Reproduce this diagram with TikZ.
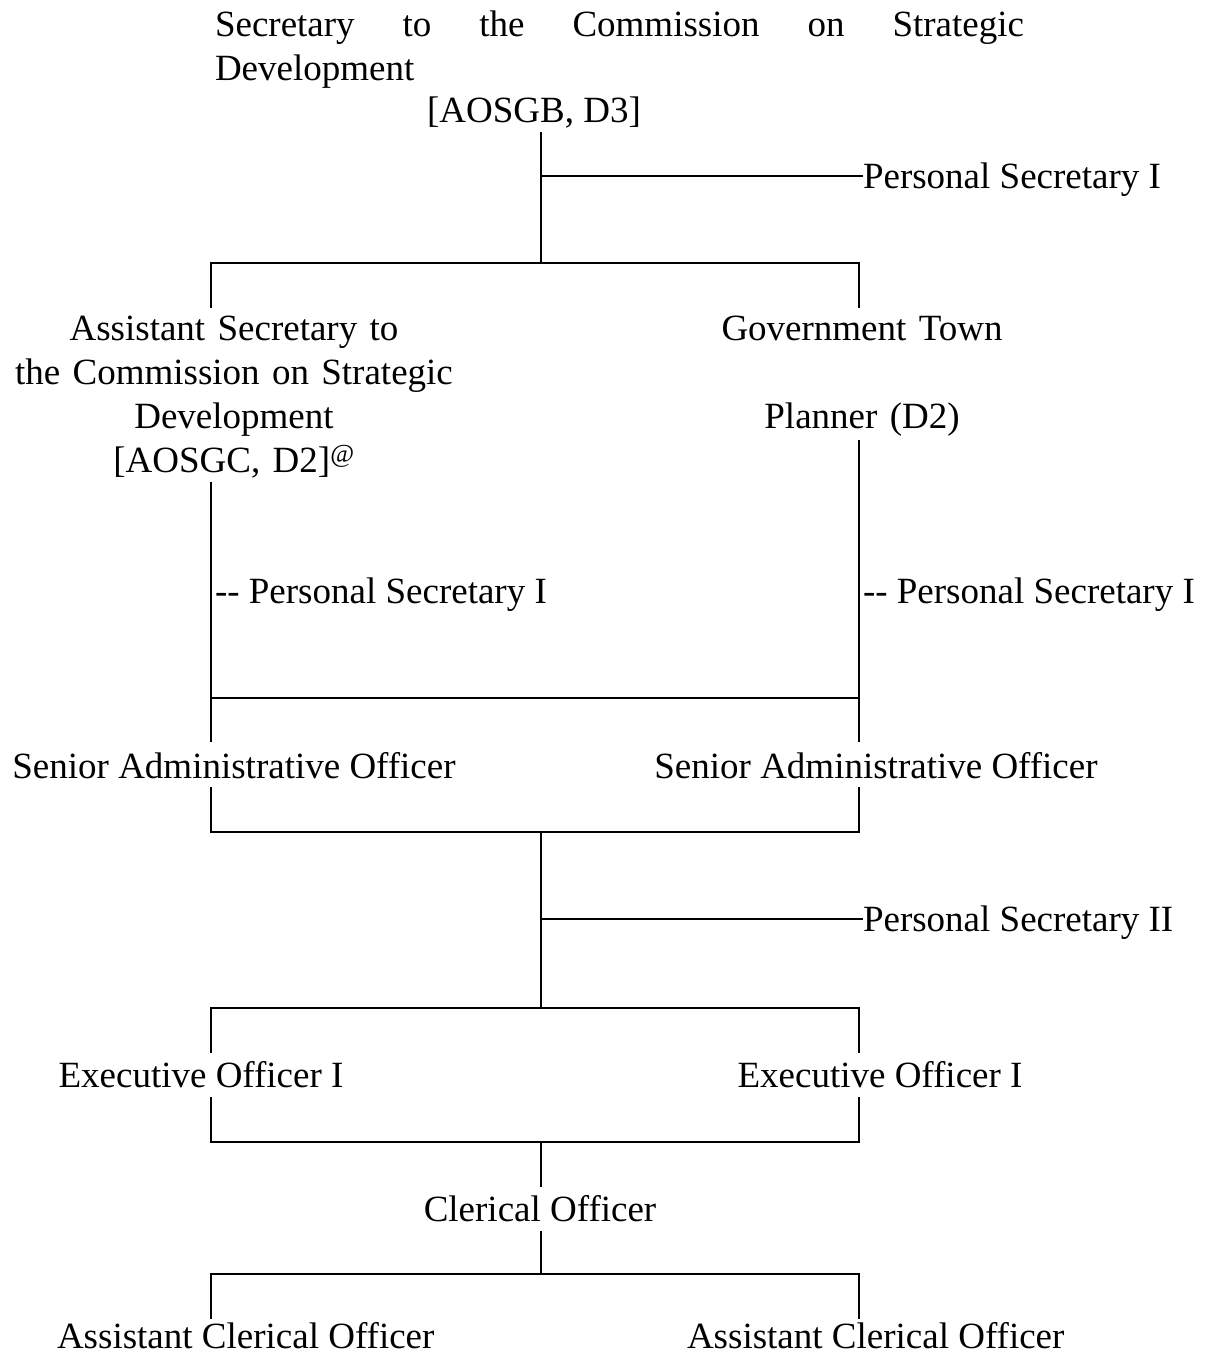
\documentclass[tikz,border=0pt]{standalone}
\usepackage{fontspec}
\setmainfont{Liberation Serif}
\begin{document}
\begin{tikzpicture}[x=1pt,y=-1pt,
  every node/.style={inner sep=0pt, outer sep=0pt, font=\fontsize{37}{44}\selectfont},
  lbl/.style={text height=34pt, text depth=10pt},
  ln/.style={line width=2pt}]
\useasboundingbox (0,0) rectangle (1215,1357);

% text nodes
\node[anchor=base west, text width=809pt, align=left] (sec) at (215,36)
  {\hbox to 809pt{Secretary\hfill to\hfill the\hfill Commission\hfill on\hfill Strategic}\\Development};
\node[anchor=base, lbl] (gb) at (534,122) {[AOSGB, D3]};
\node[anchor=base west] (ps1t) at (863,188) {Personal Secretary I};
\node[anchor=base, text width=480pt, align=center, text height=32pt, text depth=142pt] (asc) at (234,340)
  {Assistant Secretary to\\the Commission on Strategic\\Development\\{}[AOSGC, D2]\textsuperscript{@}};
\node[anchor=base, text width=400pt, align=center, text height=32pt, text depth=100pt] (gtp) at (862,340)
  {Government Town\\[44pt]Planner (D2)};
\node[anchor=base west] (psl) at (215,603) {-{}- Personal Secretary I};
\node[anchor=base west] (psr) at (863,603) {-{}- Personal Secretary I};
\node[anchor=base, text height=36pt, text depth=9pt] (sal) at (234,778) {Senior Administrative Officer};
\node[anchor=base, text height=36pt, text depth=9pt] (sar) at (876,778) {Senior Administrative Officer};
\node[anchor=base west] (ps2t) at (863,931) {Personal Secretary II};
\node[anchor=base, lbl] (eol) at (201,1087) {Executive Officer I};
\node[anchor=base, lbl] (eor) at (880,1087) {Executive Officer I};
\node[anchor=base, lbl] (clo) at (540,1221) {Clerical Officer};
\node[anchor=base west, text height=29pt] (acl) at (57,1348) {Assistant Clerical Officer};
\node[anchor=base west, text height=29pt] (acr) at (687,1348) {Assistant Clerical Officer};

% junction coordinates
\coordinate (k1) at (541,176);
\coordinate (t1) at (541,263);
\coordinate (t1l) at (211,263);
\coordinate (t1r) at (859,263);
\coordinate (m1l) at (211,698);
\coordinate (m1r) at (859,698);
\coordinate (t2) at (541,832);
\coordinate (t2l) at (211,832);
\coordinate (t2r) at (859,832);
\coordinate (k2) at (541,919);
\coordinate (t3) at (541,1008);
\coordinate (t3l) at (211,1008);
\coordinate (t3r) at (859,1008);
\coordinate (t4) at (541,1142);
\coordinate (t4l) at (211,1142);
\coordinate (t4r) at (859,1142);
\coordinate (t5) at (541,1274);
\coordinate (t5l) at (211,1274);
\coordinate (t5r) at (859,1274);

% connectors
\draw[ln] (gb.south -| t1) -- (t1);
\draw[ln] (k1) -- (k1 -| ps1t.west);
\draw[ln] (asc.north -| t1l) -- (t1l) -- (t1r) -- (gtp.north -| t1r);
\draw[ln] (asc.south -| m1l) -- (sal.north -| m1l);
\draw[ln] (gtp.south -| m1r) -- (sar.north -| m1r);
\draw[ln] (m1l) -- (m1r);
\draw[ln] (sal.south -| t2l) -- (t2l) -- (t2r) -- (sar.south -| t2r);
\draw[ln] (t2) -- (t3);
\draw[ln] (k2) -- (k2 -| ps2t.west);
\draw[ln] (eol.north -| t3l) -- (t3l) -- (t3r) -- (eor.north -| t3r);
\draw[ln] (eol.south -| t4l) -- (t4l) -- (t4r) -- (eor.south -| t4r);
\draw[ln] (t4) -- (clo.north -| t4);
\draw[ln] (clo.south -| t5) -- (t5);
\draw[ln] (acl.north -| t5l) -- (t5l) -- (t5r) -- (acr.north -| t5r);
\end{tikzpicture}
\end{document}
